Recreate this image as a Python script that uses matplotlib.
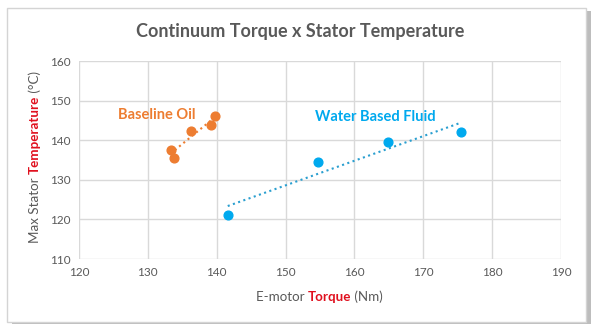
import numpy as np
import matplotlib
matplotlib.use('Agg')
import matplotlib.pyplot as plt
from matplotlib.patches import Rectangle

plt.rcParams['font.family'] = ['Lato', 'DejaVu Sans']

# dados
oil_torque = [133.3, 133.8, 136.3, 139.1, 139.7]
oil_temp = [137.6, 135.5, 142.4, 143.8, 146.2]
water_torque = [141.6, 154.7, 164.9, 175.5]
water_temp = [121.0, 134.5, 139.6, 142.1]

xticks = [120, 130, 140, 150, 160, 170, 180, 190]
yticks = [110, 120, 130, 140, 150, 160]

cinza = '#595959'
laranja = '#ED7D31'
azul = '#00A9EE'
azul_linha = '#2A9FD0'
vermelho = '#E0101E'

fig = plt.figure(figsize=(6, 3.31), dpi=100)
fig.patch.set_facecolor('white')

# moldura com sombra
fig.patches.append(Rectangle((0.020, 0.020), 0.965, 0.948, transform=fig.transFigure,
                             facecolor='#bdbdbd', edgecolor='none', zorder=-3))
fig.patches.append(Rectangle((0.012, 0.028), 0.965, 0.948, transform=fig.transFigure,
                             facecolor='white', edgecolor='#d4d4d4', lw=1, zorder=-2))

ax = fig.add_axes([79/600, 1 - 259/331, (561 - 79)/600, (259 - 61)/331])
ax.set_facecolor('none')
ax.set_xlim(120, 190)
ax.set_ylim(110, 160)
ax.set_xticks(xticks)
ax.set_yticks(yticks)
ax.grid(True, color='#d9d9d9', lw=1)
ax.set_axisbelow(True)
for s in ax.spines.values():
    s.set_visible(False)
ax.tick_params(length=0, labelsize=8.5, labelcolor=cinza, pad=6)

ax.plot(oil_torque, oil_temp, 'o', color=laranja, ms=6.3, zorder=3, clip_on=False)
ax.plot(water_torque, water_temp, 'o', color=azul, ms=6.3, zorder=3, clip_on=False)

# linhas de tendência (ajuste linear)
p = np.polyfit(oil_torque, oil_temp, 1)
xx = np.array([min(oil_torque), max(oil_torque)])
ax.plot(xx, np.polyval(p, xx), ':', color=laranja, lw=1.5)
p = np.polyfit(water_torque, water_temp, 1)
xx = np.array([min(water_torque), max(water_torque)])
ax.plot(xx, np.polyval(p, xx), ':', color=azul_linha, lw=1.5)

ax.text(125.7, 146.3, 'Baseline Oil', color=laranja, fontsize=10.5, fontweight='bold', va='center')
ax.text(154.3, 145.9, 'Water Based Fluid', color=azul, fontsize=10.5, fontweight='bold', va='center')

fig.text(0.5, 1 - 32/331, 'Continuum Torque x Stator Temperature', color=cinza,
         fontsize=13, fontweight='bold', ha='center', va='center')

# rótulo do eixo x em várias cores
t1 = fig.text(256/600, 1 - 297/331, 'E-motor ', color=cinza, fontsize=9.6, va='center', ha='left')
t2 = fig.text(0, 0, 'Torque', color=vermelho, fontsize=9.6, fontweight='bold')
t3 = fig.text(0, 0, ' (Nm)', color=cinza, fontsize=9.6)

# rótulo do eixo y em várias cores
s1 = fig.text(35/600, 1 - 243/331, 'Max Stator ', color=cinza, fontsize=9.6, rotation=90,
              ha='center', va='bottom')
s2 = fig.text(0, 0, 'Temperature', color=vermelho, fontsize=9.6, fontweight='bold',
              rotation=90, ha='center', va='bottom')
s3 = fig.text(0, 0, ' (°C)', color=cinza, fontsize=9.6, rotation=90, ha='center', va='bottom')

# encadeia os pedaços depois de medir
fig.canvas.draw()
r = fig.canvas.get_renderer()
inv = fig.transFigure.inverted()
b = t1.get_window_extent(r)
t2.set_position(inv.transform((b.x1, b.y0)))
t2.set_va('bottom')
b = t2.get_window_extent(r)
t3.set_position(inv.transform((b.x1, b.y0)))
t3.set_va('bottom')
b = s1.get_window_extent(r)
s2.set_position(inv.transform(((b.x0 + b.x1) / 2, b.y1)))
b = s2.get_window_extent(r)
s3.set_position(inv.transform(((b.x0 + b.x1) / 2, b.y1)))

fig.savefig('out.png', dpi=100)
